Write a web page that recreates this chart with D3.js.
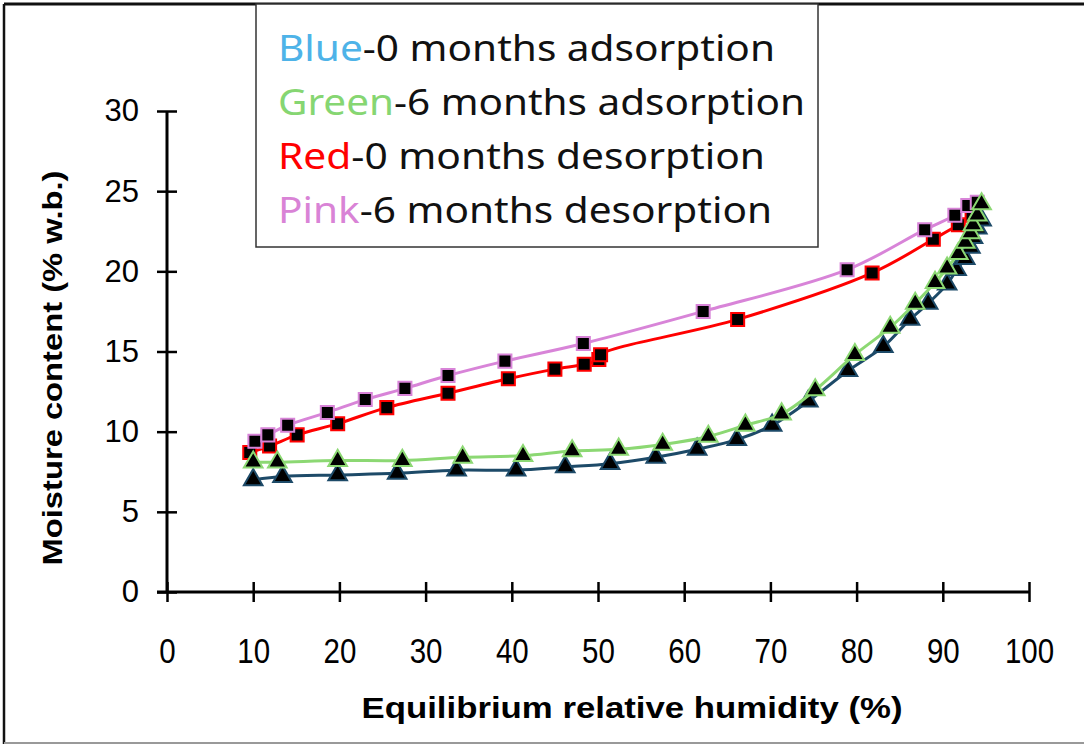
<!DOCTYPE html>
<html>
<head>
<meta charset="utf-8">
<script src="https://cdn.jsdelivr.net/npm/d3@7"></script>
<style>
  body { margin: 0; background: #fff; }
  svg { display: block; }
</style>
</head>
<body>
<svg id="chart" width="1084" height="747"></svg>
<script>
// humidity (%) and moisture content (% w.b.)
var blueX  = [10.0, 13.4, 19.8, 26.7, 33.6, 40.5, 46.2, 51.4, 56.7, 61.5, 66.1, 70.2, 74.4, 79.0, 83.1, 86.2, 88.3, 90.5, 91.6, 92.6, 93.2, 93.5, 94.0, 94.5];
var blueY  = [7.0, 7.2, 7.3, 7.4, 7.6, 7.6, 7.8, 8.0, 8.4, 8.9, 9.5, 10.4, 11.9, 13.8, 15.3, 17.0, 18.0, 19.2, 20.1, 20.8, 21.5, 22.1, 22.7, 23.2];
var greenX = [10.0, 12.8, 19.8, 27.3, 34.3, 41.3, 47.0, 52.4, 57.5, 62.8, 67.1, 71.3, 75.2, 79.8, 83.9, 86.8, 89.1, 90.5, 91.8, 92.6, 93.2, 93.5, 94.0, 94.5];
var greenY = [8.1, 8.1, 8.2, 8.2, 8.4, 8.5, 8.8, 8.9, 9.2, 9.7, 10.4, 11.1, 12.6, 14.8, 16.5, 18.0, 19.3, 20.2, 21.1, 21.8, 22.4, 22.9, 23.5, 24.2];
var redX   = [9.6, 11.9, 15.1, 19.8, 25.5, 32.6, 39.6, 45.0, 48.4, 50.1, 50.3, 66.2, 81.8, 88.9, 91.8, 93.4];
var redY   = [8.7, 9.1, 9.8, 10.5, 11.5, 12.4, 13.3, 13.9, 14.2, 14.5, 14.8, 17.0, 19.9, 22.0, 22.9, 23.5];
var pinkX  = [10.2, 11.7, 14.0, 18.6, 23.0, 27.6, 32.6, 39.2, 48.3, 62.2, 78.9, 87.9, 91.4, 92.9, 94.0];
var pinkY  = [9.4, 9.8, 10.4, 11.2, 12.0, 12.7, 13.5, 14.4, 15.5, 17.5, 20.1, 22.6, 23.5, 24.1, 24.3];

var xTicks = [0, 10, 20, 30, 40, 50, 60, 70, 80, 90, 100];
var yTicks = [0, 5, 10, 15, 20, 25, 30];

var legendWords = ['Blue', 'Green', 'Red', 'Pink'];
var legendRest  = ['-0 months adsorption', '-6 months adsorption', '-0 months desorption', '-6 months desorption'];
var legendWordColors = ['#4eb3e8', '#86d672', '#ff0000', '#d983d6'];
var legendWidths = [497, 527, 487, 494];

var svg = d3.select('#chart');

var x = d3.scaleLinear().domain([0, 100]).range([167, 1029]);
var y = d3.scaleLinear().domain([0, 30]).range([592, 111]);

// outer frame
svg.append('line').attr('x1', 4).attr('x2', 1084).attr('y1', 4).attr('y2', 4)
	.attr('stroke', '#111').attr('stroke-width', 3);
svg.append('line').attr('x1', 4).attr('x2', 4).attr('y1', 4).attr('y2', 744)
	.attr('stroke', '#111').attr('stroke-width', 2.5);
svg.append('line').attr('x1', 4).attr('x2', 1084).attr('y1', 743).attr('y2', 743)
	.attr('stroke', '#999').attr('stroke-width', 2);

// axes
var xAxis = svg.append('g')
	.attr('transform', 'translate(0,' + y(0) + ')')
	.call(d3.axisBottom(x).tickValues(xTicks).tickSize(10).tickPadding(0));
xAxis.select('.domain').remove();
xAxis.append('line').attr('x1', 157).attr('x2', x(100)).attr('y1', 0).attr('y2', 0)
	.attr('stroke', '#000').attr('stroke-width', 3);
xAxis.selectAll('.tick line').attr('y1', -10).attr('y2', 10)
	.attr('stroke', '#000').attr('stroke-width', 2.5);
xAxis.selectAll('.tick text')
	.attr('y', 45)
	.attr('transform', 'scale(0.82,1)')
	.attr('fill', '#000')
	.style('font-family', 'Liberation Sans, Arial, sans-serif')
	.style('font-size', '36px');

var yAxis = svg.append('g')
	.attr('transform', 'translate(' + x(0) + ',0)')
	.call(d3.axisLeft(y).tickValues(yTicks).tickSize(10).tickPadding(18));
yAxis.select('.domain').remove();
yAxis.append('line').attr('x1', 0).attr('x2', 0).attr('y1', y(30)).attr('y2', y(0) + 1)
	.attr('stroke', '#000').attr('stroke-width', 3);
yAxis.selectAll('.tick line').attr('x1', -10).attr('x2', 10)
	.attr('stroke', '#000').attr('stroke-width', 2.5);
yAxis.selectAll('.tick text')
	.attr('fill', '#000')
	.style('font-family', 'Liberation Sans, Arial, sans-serif')
	.style('font-size', '31px');

// axis titles
svg.append('text')
	.attr('x', 632).attr('y', 718)
	.attr('text-anchor', 'middle')
	.attr('textLength', 541).attr('lengthAdjust', 'spacingAndGlyphs')
	.style('font-family', 'Liberation Sans, Arial, sans-serif')
	.style('font-weight', 'bold').style('font-size', '29px')
	.text('Equilibrium relative humidity (%)');

svg.append('text')
	.attr('transform', 'translate(62,368) rotate(-90)')
	.attr('text-anchor', 'middle')
	.attr('textLength', 395).attr('lengthAdjust', 'spacingAndGlyphs')
	.style('font-family', 'Liberation Sans, Arial, sans-serif')
	.style('font-weight', 'bold').style('font-size', '27px')
	.text('Moisture content (% w.b.)');

// series
var series = [
	{ xs: redX, ys: redY, color: '#ff0000', shape: 'square' },
	{ xs: pinkX, ys: pinkY, color: '#d884d8', shape: 'square' },
	{ xs: blueX, ys: blueY, color: '#1d4a68', shape: 'triangle' },
	{ xs: greenX, ys: greenY, color: '#8cd873', shape: 'triangle' }
];

var line = d3.line()
	.x(function (d) { return x(d[0]); })
	.y(function (d) { return y(d[1]); })
	.curve(d3.curveCatmullRom.alpha(0.5));

var square = d3.symbol().type(d3.symbolSquare).size(170);
var triangle = d3.symbol().type(d3.symbolTriangle).size(150);

series.forEach(function (s) {
	var pts = s.xs.map(function (v, i) { return [v, s.ys[i]]; });

	svg.append('path')
		.datum(pts)
		.attr('d', line)
		.attr('fill', 'none')
		.attr('stroke', s.color)
		.attr('stroke-width', 3);

	svg.append('g').selectAll('path')
		.data(pts)
		.enter()
		.append('path')
		.attr('d', s.shape === 'square' ? square : triangle)
		.attr('transform', function (d) {
			return 'translate(' + x(d[0]) + ',' + y(d[1]) + ')';
		})
		.attr('fill', '#000')
		.attr('stroke', s.color)
		.attr('stroke-width', 2);
});

// legend box
svg.append('rect')
	.attr('x', 256).attr('y', 4).attr('width', 562).attr('height', 243)
	.attr('fill', '#fff').attr('stroke', '#333').attr('stroke-width', 1.5);

var legend = svg.append('g').selectAll('text')
	.data(legendWords)
	.enter()
	.append('text')
	.attr('x', 278)
	.attr('y', function (d, i) { return 61 + i * 54; })
	.attr('textLength', function (d, i) { return legendWidths[i]; })
	.attr('lengthAdjust', 'spacingAndGlyphs')
	.style('font-family', 'Noto Sans, Open Sans, sans-serif')
	.style('font-size', '37px')
	.attr('fill', '#111');

legend.append('tspan')
	.attr('fill', function (d, i) { return legendWordColors[i]; })
	.text(function (d) { return d; });
legend.append('tspan')
	.text(function (d, i) { return legendRest[i]; });
</script>
</body>
</html>
